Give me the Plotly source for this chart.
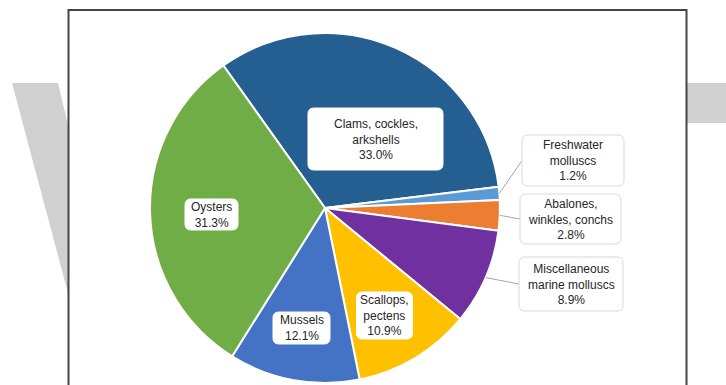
import math
import plotly.graph_objects as go

# Mollusc production shares by group (%)
categories = [
    "Clams, cockles,<br>arkshells",
    "Freshwater<br>molluscs",
    "Abalones,<br>winkles, conchs",
    "Miscellaneous<br>marine molluscs",
    "Scallops,<br>pectens",
    "Mussels",
    "Oysters",
]
shares = [33.0, 1.2, 2.8, 8.9, 10.9, 12.1, 31.3]
colors = ["#255e91", "#5b9bd5", "#ed7d31", "#7030a0", "#ffc000", "#4472c4", "#70ad47"]

W, H = 726, 385
CX, CY, R = 325, 208, 175
ROTATION = -35.5

# label box centre (px) and size (px); outside labels get a leader line
label_boxes = [
    ((375.5, 139.0), (135, 62), False),
    ((573.0, 160.5), (102, 51), True),
    ((570.5, 219.0), (101, 50), True),
    ((571.0, 284.0), (104, 54), True),
    ((384.5, 315.5), (56, 47), False),
    ((301.5, 328.0), (57, 32), False),
    ((211.5, 214.5), (53, 31), False),
]


def px(x, y):
    return x / W, 1 - y / H


def rounded_rect(x0, y0, x1, y1, r):
    def P(x, y):
        a, b = px(x, y)
        return f"{a:.5f},{b:.5f}"
    return (
        f"M {P(x0 + r, y0)} L {P(x1 - r, y0)} Q {P(x1, y0)} {P(x1, y0 + r)} "
        f"L {P(x1, y1 - r)} Q {P(x1, y1)} {P(x1 - r, y1)} "
        f"L {P(x0 + r, y1)} Q {P(x0, y1)} {P(x0, y1 - r)} "
        f"L {P(x0, y0 + r)} Q {P(x0, y0)} {P(x0 + r, y0)} Z"
    )


def poly(points):
    segs = []
    for i, (x, y) in enumerate(points):
        a, b = px(x, y)
        segs.append(("M " if i == 0 else "L ") + f"{a:.5f},{b:.5f}")
    return " ".join(segs) + " Z"


fig = go.Figure(
    go.Pie(
        labels=categories,
        values=shares,
        sort=False,
        direction="clockwise",
        rotation=ROTATION,
        marker=dict(colors=colors, line=dict(color="white", width=2)),
        textinfo="none",
        hoverinfo="none",
        showlegend=False,
        domain=dict(
            x=[(CX - R) / W, (CX + R) / W],
            y=[(H - CY - R) / H, (H - CY + R) / H],
        ),
    )
)

shapes = [
    # faint watermark strokes behind the frame
    dict(type="path", path=poly([(12, 83), (58, 83), (130, 383), (92, 383)]),
         xref="paper", yref="paper", fillcolor="#d0d0d0", line=dict(width=0), layer="below"),
    dict(type="rect", x0=600 / W, x1=1, y0=1 - 123 / H, y1=1 - 83 / H,
         xref="paper", yref="paper", fillcolor="#d0d0d0", line=dict(width=0), layer="below"),
    # chart frame
    dict(type="rect", x0=68.5 / W, x1=686.5 / W, y0=-0.05, y1=1 - 10 / H,
         xref="paper", yref="paper", fillcolor="white",
         line=dict(color="#444444", width=2), layer="below"),
]

annotations = []
total = sum(shares)
cum = 0.0
for name, v, (centre, size, outside) in zip(categories, shares, label_boxes):
    mid = math.radians(ROTATION + (cum + v / 2) / total * 360)
    cum += v
    (bx, by), (bw, bh) = centre, size
    x0, x1 = bx - bw / 2, bx + bw / 2
    y0, y1 = by - bh / 2, by + bh / 2
    if outside:
        sx, sy = CX + R * math.sin(mid), CY - R * math.cos(mid)
        a0, b0 = px(sx, sy)
        a1, b1 = px(x0, by)
        shapes.append(dict(type="line", x0=a0, y0=b0, x1=a1, y1=b1,
                           xref="paper", yref="paper",
                           line=dict(color="#a6a6a6", width=1), layer="above"))
    shapes.append(dict(type="path", path=rounded_rect(x0, y0, x1, y1, 6),
                       xref="paper", yref="paper", fillcolor="white",
                       line=dict(color="#d9d9d9" if outside else "white", width=1),
                       layer="above"))
    pct = f"{v:.1f}%"
    ax, ay = px(bx, by)
    annotations.append(dict(
        x=ax, y=ay, xref="paper", yref="paper", showarrow=False,
        text=f"{name}<br>{pct}", align="center",
        font=dict(family="Liberation Sans, Arial, sans-serif", size=12, color="#262626"),
        xanchor="center", yanchor="middle",
    ))

fig.update_layout(
    width=W, height=H,
    margin=dict(l=0, r=0, t=0, b=0),
    paper_bgcolor="white",
    plot_bgcolor="white",
    shapes=shapes,
    annotations=annotations,
)

fig.write_html("out.html")
